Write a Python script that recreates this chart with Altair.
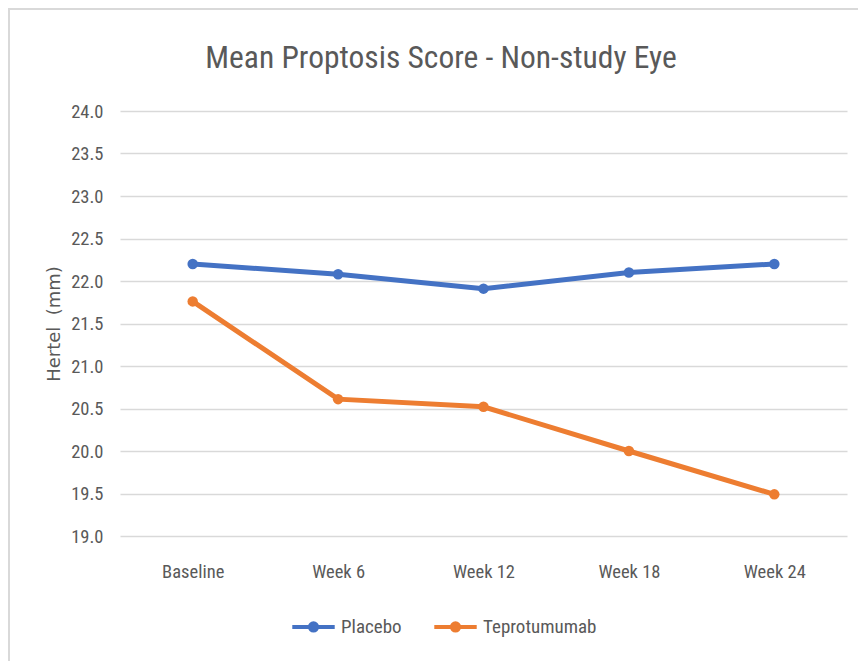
import altair as alt
import pandas as pd

weeks = ["Baseline", "Week 6", "Week 12", "Week 18", "Week 24"]
placebo = [22.20, 22.08, 21.91, 22.10, 22.20]
tepro = [21.76, 20.61, 20.52, 20.00, 19.49]
series = ["Placebo", "Teprotumumab"]
colors = ["#4472C4", "#ED7D31"]
y_ticks = [19.0, 19.5, 20.0, 20.5, 21.0, 21.5, 22.0, 22.5, 23.0, 23.5, 24.0]
title_text = ["Mean Proptosis Score - Non-study Eye"]

rows = []
for w, p, t in zip(weeks, placebo, tepro):
    rows.append({"week": w, "series": series[0], "value": p})
    rows.append({"week": w, "series": series[1], "value": t})
df = pd.DataFrame(rows)

FONT = "Liberation Sans Narrow, Roboto Condensed, Liberation Sans, sans-serif"

x_enc = alt.X("week:N", sort=weeks, title=None,
              axis=alt.Axis(labelAngle=0, labelPadding=26, labelFontSize=18.5,
                            labelColor="#595959", labelFont=FONT,
                            domain=False, ticks=False, grid=False))
y_enc = alt.Y("value:Q", scale=alt.Scale(domain=[19, 24], nice=False, zero=False),
              title="Hertel\u00a0 (mm)",
              axis=alt.Axis(values=y_ticks, format=".1f", labelFontSize=18.5,
                            labelColor="#595959", labelFont=FONT, labelPadding=17,
                            domain=False, ticks=False, grid=True,
                            gridColor="#d9d9d9", gridWidth=1.5,
                            titleFont="DejaVu Sans", titleFontSize=18,
                            titleFontWeight="normal", titleColor="#595959",
                            titlePadding=7))
color_scale = alt.Scale(domain=series, range=colors)
color_enc = alt.Color("series:N", sort=series, scale=color_scale,
                      legend=alt.Legend(title=None, orient="none", direction="horizontal",
                                        legendX=170, legendY=492,
                                        symbolType="M-1,0L1,0M-0.17,0A0.17,0.17 0 1,1 0.17,0A0.17,0.17 0 1,1 -0.17,0Z",
                                        symbolSize=1800, symbolStrokeWidth=4,
                                        labelFont=FONT, labelFontSize=19,
                                        labelColor="#595959", columnPadding=24,
                                        labelOffset=4))

base = alt.Chart(df)
lines = base.mark_line(strokeWidth=5).encode(x=x_enc, y=y_enc, color=color_enc)
points = base.mark_circle(size=110, opacity=1).encode(
    x=x_enc, y=y_enc,
    color=alt.Color("series:N", sort=series, scale=color_scale, legend=None))

border_df = pd.DataFrame({"k": [0]})
left_border = alt.Chart(border_df).mark_rule(color="#d9d9d9", strokeWidth=2).encode(
    x=alt.value(-111), y=alt.value(-103), y2=alt.value(560))
top_border = alt.Chart(border_df).mark_rule(color="#d9d9d9", strokeWidth=2).encode(
    x=alt.value(-111), x2=alt.value(760), y=alt.value(-102))

title_df = pd.DataFrame({"t": title_text})
title_mark = alt.Chart(title_df).mark_text(
    font=FONT, fontSize=31.5, color="#595959", align="center", baseline="alphabetic"
).encode(text="t:N", x=alt.value(321), y=alt.value(-43))

chart = alt.layer(left_border, top_border, lines, points, title_mark).properties(
    width=727, height=425,
    autosize=alt.AutoSizeParams(type="none"),
    padding={"left": 112, "top": 103, "right": 11, "bottom": 130},
).configure(background="white", view=alt.ViewConfig(stroke=None))

chart.save("out.html", embed_options={"renderer": "svg", "actions": False})
